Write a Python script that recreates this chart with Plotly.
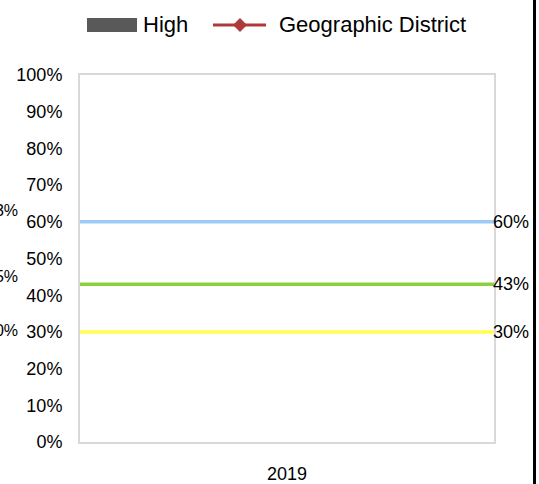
import plotly.graph_objects as go

# chart data
years = ["2019"]
high_values = [None]
district_values = [None]

benchmark_values = [0.60, 0.43, 0.30]
benchmark_labels = ["60%", "43%", "30%"]
benchmark_colors = ["#9DCBF8", "#8DD03E", "#FFFF4F"]

# labels of the neighbouring chart that spill in from the left edge
neighbor_values = [0.63, 0.45, 0.305]
neighbor_labels = ["63%", "45%", "30%"]

FONT = "Liberation Sans, Arial, sans-serif"

# plot area in pixels (for placing the hand-drawn legend)
L, R, T, B = 80, 494, 75, 442


def px_x(p):
    return (p - L) / (R - L)


def px_y(p):
    return (B - p) / (B - T)


fig = go.Figure()

fig.add_trace(go.Bar(x=years, y=high_values, name="High",
                     marker_color="#595959", showlegend=False))
fig.add_trace(go.Scatter(x=years, y=district_values, name="Geographic District",
                         mode="lines+markers", line=dict(color="#AE3B3B", width=3),
                         marker=dict(symbol="diamond", size=12), showlegend=False))

# benchmark lines with their labels on the right
for v, lab, c in zip(benchmark_values, benchmark_labels, benchmark_colors):
    fig.add_hline(y=v, line=dict(color=c, width=3.5), layer="above")
    fig.add_annotation(x=1, xref="x domain", y=v, yref="y", text=lab,
                       showarrow=False, xanchor="left", yanchor="middle", xshift=-3,
                       font=dict(size=18, color="#000000", family=FONT))

# cut off at the left edge, as in the reference
for v, lab in zip(neighbor_values, neighbor_labels):
    fig.add_annotation(x=px_x(20), xref="paper", y=v, yref="y", text=lab,
                       showarrow=False, xanchor="right", yanchor="middle",
                       font=dict(size=16, color="#000000", family=FONT))

# legend drawn by hand so the keys match the wide swatches
fig.add_shape(type="rect", xref="paper", yref="paper",
              x0=px_x(87), x1=px_x(137), y0=px_y(32), y1=px_y(18),
              fillcolor="#595959", line=dict(width=0))
fig.add_annotation(x=px_x(141), xref="paper", y=px_y(25), yref="paper", text="High",
                   showarrow=False, xanchor="left", yanchor="middle",
                   font=dict(size=22, color="#000000", family=FONT))
fig.add_shape(type="line", xref="paper", yref="paper",
              x0=px_x(213), x1=px_x(266), y0=px_y(25), y1=px_y(25),
              line=dict(color="#AE3B3B", width=3))
fig.add_shape(type="path", xref="paper", yref="paper",
              path=f"M {px_x(240)},{px_y(18)} L {px_x(247)},{px_y(25)} "
                   f"L {px_x(240)},{px_y(32)} L {px_x(233)},{px_y(25)} Z",
              fillcolor="#AE3B3B", line=dict(width=0))
fig.add_annotation(x=px_x(277), xref="paper", y=px_y(25), yref="paper",
                   text="Geographic District", showarrow=False, xanchor="left",
                   yanchor="middle",
                   font=dict(size=22, color="#000000", family=FONT))

# black bar along the right edge
fig.add_shape(type="rect", xref="paper", yref="paper",
              x0=px_x(533), x1=px_x(536), y0=px_y(484), y1=px_y(0),
              fillcolor="#000000", line=dict(width=0))

fig.update_layout(
    width=539, height=484,
    margin=dict(l=L, r=539 - R, t=T, b=484 - B, autoexpand=False),
    paper_bgcolor="white", plot_bgcolor="white",
    font=dict(family=FONT, size=18, color="#000000"),
    showlegend=False,
    xaxis=dict(type="category", showgrid=False, showline=True, mirror=True,
               linecolor="#D9D9D9", linewidth=2, ticks="", ticklabelstandoff=14,
               tickfont=dict(size=18), automargin=False),
    yaxis=dict(range=[0, 1], dtick=0.1, tickformat=".0%", showgrid=False,
               zeroline=False, showline=True, mirror=True, linecolor="#D9D9D9",
               linewidth=2, ticks="", ticklabelstandoff=12,
               tickfont=dict(size=18), automargin=False),
)

fig.write_html("out.html", config={"displayModeBar": False},
               post_script="document.body.style.margin='0';")
